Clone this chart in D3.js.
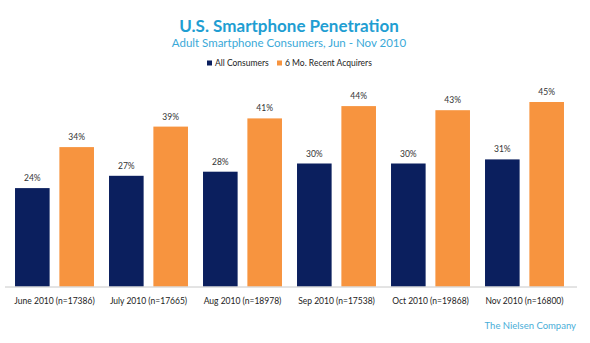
<!DOCTYPE html>
<html>
<head>
<meta charset="utf-8">
<script src="https://cdn.jsdelivr.net/npm/d3@7"></script>
<style>
  body { margin: 0; background: #fff; }
  text { font-family: Lato, "Open Sans", sans-serif; }
</style>
</head>
<body>
<svg id="chart"></svg>
<script>
const width = 590;
const height = 343;

// data
const months = ["June 2010 (n=17386)", "July 2010 (n=17665)", "Aug 2010 (n=18978)",
                "Sep 2010 (n=17538)", "Oct 2010 (n=19868)", "Nov 2010 (n=16800)"];
const seriesNames = ["All Consumers", "6 Mo. Recent Acquirers"];
const allConsumers = [24, 27, 28, 30, 30, 31];
const recentAcquirers = [34, 39, 41, 44, 43, 45];
const colors = ["#0b1f5e", "#f7943f"];

const rows = months.map((m, i) => ({ month: m, values: [allConsumers[i], recentAcquirers[i]] }));

const svg = d3.select("#chart")
    .attr("width", width)
    .attr("height", height);

const baseY = 286.5;

const x0 = d3.scaleBand()
    .domain(months)
    .range([7.5, 571.5])
    .paddingInner(0.16)
    .paddingOuter(0.08);

const x1 = d3.scaleBand()
    .domain(seriesNames)
    .range([0, x0.bandwidth()])
    .paddingInner(0.22);

const y = d3.scaleLinear()
    .domain([0, 50])
    .range([baseY, baseY - 205]);

// title block
svg.append("text")
    .attr("x", 289).attr("y", 32)
    .attr("text-anchor", "middle")
    .attr("font-size", 17).attr("font-weight", "bold")
    .attr("fill", "#1f9ed2")
    .text("U.S. Smartphone Penetration");

svg.append("text")
    .attr("x", 289).attr("y", 47)
    .attr("text-anchor", "middle")
    .attr("font-size", 11.5)
    .attr("fill", "#3aa9d8")
    .text("Adult Smartphone Consumers, Jun - Nov 2010");

// legend
const legendX = [207, 277];
const legend = svg.selectAll("g.legend")
    .data(seriesNames)
    .enter().append("g")
    .attr("class", "legend")
    .attr("transform", (d, i) => `translate(${legendX[i]},63)`);

legend.append("rect")
    .attr("x", 0).attr("y", -2.5)
    .attr("width", 5).attr("height", 5)
    .attr("fill", (d, i) => colors[i]);

legend.append("text")
    .attr("x", 8).attr("y", 0)
    .attr("dy", "0.35em")
    .attr("font-size", 8.5)
    .attr("fill", "#222")
    .text(d => d);

// bars
const groups = svg.selectAll("g.group")
    .data(rows)
    .enter().append("g")
    .attr("class", "group")
    .attr("transform", d => `translate(${x0(d.month)},0)`);

groups.selectAll("rect")
    .data(d => d.values.map((v, i) => ({ key: seriesNames[i], value: v, i: i })))
    .enter().append("rect")
    .attr("x", d => x1(d.key))
    .attr("y", d => y(d.value))
    .attr("width", x1.bandwidth())
    .attr("height", d => baseY - y(d.value))
    .attr("fill", d => colors[d.i]);

groups.selectAll("text.val")
    .data(d => d.values.map((v, i) => ({ key: seriesNames[i], value: v })))
    .enter().append("text")
    .attr("class", "val")
    .attr("x", d => x1(d.key) + x1.bandwidth() / 2)
    .attr("y", d => y(d.value) - 7)
    .attr("text-anchor", "middle")
    .attr("font-size", 8.5)
    .attr("fill", "#333")
    .text(d => d.value + "%");

// baseline
svg.append("line")
    .attr("x1", 5).attr("x2", 577)
    .attr("y1", baseY + 0.5).attr("y2", baseY + 0.5)
    .attr("stroke", "#c8c8c8")
    .attr("stroke-width", 1);

// category labels
const xAxis = d3.axisBottom(x0).tickSize(0).tickPadding(10);
const axisG = svg.append("g")
    .attr("transform", `translate(0,${baseY + 1})`)
    .call(xAxis);
axisG.select(".domain").remove();
axisG.selectAll("text")
    .attr("font-size", 8.5)
    .attr("font-family", "Lato, 'Open Sans', sans-serif")
    .attr("fill", "#222");

// source
svg.append("text")
    .attr("x", 576).attr("y", 329)
    .attr("text-anchor", "end")
    .attr("font-size", 9.5)
    .attr("fill", "#4aaed8")
    .text("The Nielsen Company");
</script>
</body>
</html>
